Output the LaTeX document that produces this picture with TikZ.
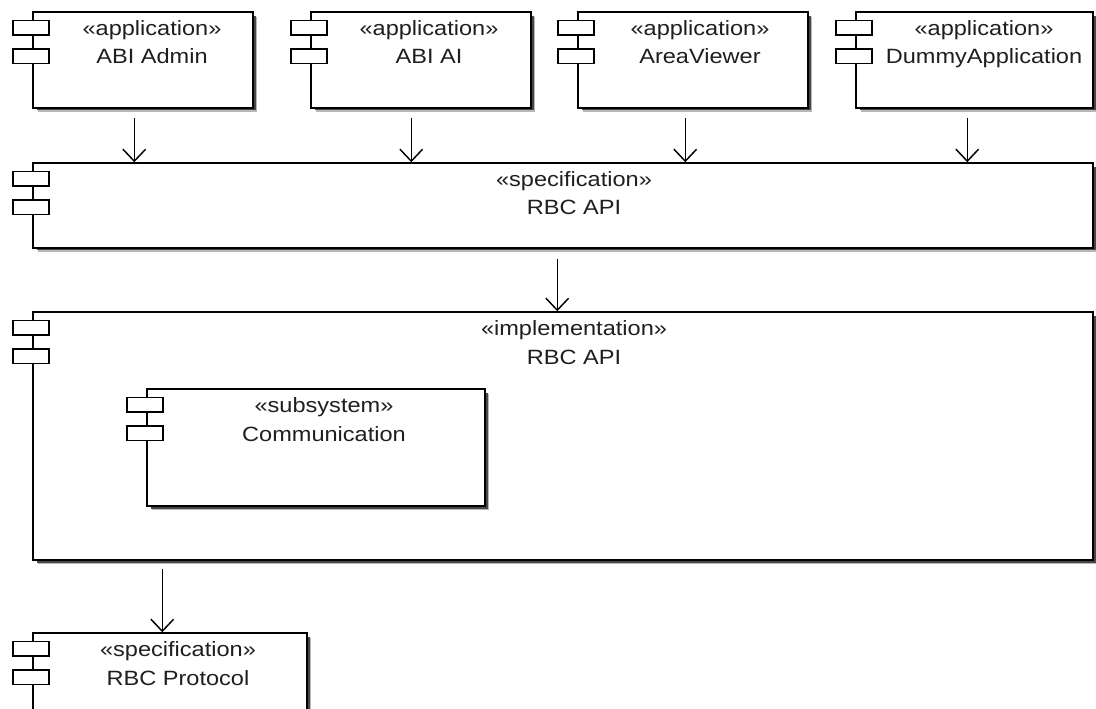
\documentclass[tikz,border=0pt]{standalone}
\usepackage{fontspec}
\newfontfamily\umlfont[FakeStretch=1.14]{Liberation Sans}
\usetikzlibrary{arrows.meta,fit,calc}

% \compbox{name}{x1}{y1}{x2}{y2}{stereotype}{title}{text centre x}
\newcommand\compbox[8]{%
  \fill[shadowdark] (#4, #3+4) rectangle (#4+2.5, #5+2.5);
  \fill[shadowdark] (#2+4, #5) rectangle (#4+2.5, #5+2.5);
  \fill[shadowlight] (#4+2.5, #3+5) rectangle (#4+4, #5+4);
  \fill[shadowlight] (#2+5, #5+2.5) rectangle (#4+4, #5+4);
  \node[compframe, fit={(#2,#3) (#4,#5)}] (#1) {};
  \draw[iconrect] (#2-20, #3+8.5) rectangle (#2+16, #3+23);
  \draw[iconrect] (#2-20, #3+37) rectangle (#2+16, #3+51.5);
  \node[umltext] (#1-st) at (#8, #3+23.5) {«#6»};
  \node[umltext] (#1-nm) at (#8, #3+52) {#7};
}

\tikzset{
  compframe/.style={draw=black, line width=1.1pt, fill=white, inner sep=0pt, rectangle},
  iconrect/.style={draw=black, line width=1.1pt, fill=white},
  shadowdark/.style={fill=black!72},
  shadowlight/.style={fill=black!28},
  umltext/.style={font=\umlfont\fontsize{15.5pt}{18pt}\selectfont, text=black!88, inner sep=0pt, anchor=base},
  dep/.style={line width=1.1pt, -{Straight Barb[length=9pt, width=17pt]}},
}

\begin{document}
\begin{tikzpicture}[x=0.75pt, y=-0.75pt]
\useasboundingbox (0,0) rectangle (1096,709);
\fill[white] (0,0) rectangle (1096,709);
\clip (0,0) rectangle (1096,709);

% applications
\compbox{admin}{33}{12}{253}{108}{application}{ABI Admin}{152}
\compbox{ai}{311}{12}{531}{108}{application}{ABI AI}{429}
\compbox{viewer}{578}{12}{808}{108}{application}{AreaViewer}{700}
\compbox{dummy}{856}{12}{1093}{108}{application}{DummyApplication}{984}

% API specification and implementation
\compbox{spec}{33}{163}{1093}{248}{specification}{RBC API}{574}
\compbox{impl}{33}{312}{1093}{560}{implementation}{RBC API}{574}
\compbox{comm}{147}{389}{485}{506}{subsystem}{Communication}{324}

% protocol
\compbox{proto}{33}{633}{307}{740}{specification}{RBC Protocol}{178}

% dependencies
\coordinate (d1) at ($(admin.south west)+(102,9)$);
\coordinate (d2) at ($(ai.south west)+(101,9)$);
\coordinate (d3) at ($(viewer.south west)+(108,9)$);
\coordinate (d4) at ($(dummy.south west)+(112,9)$);
\draw[dep] (d1) -- (d1 |- spec.north);
\draw[dep] (d2) -- (d2 |- spec.north);
\draw[dep] (d3) -- (d3 |- spec.north);
\draw[dep] (d4) -- (d4 |- spec.north);

\coordinate (d5) at ($(spec.south west)+(525,10)$);
\draw[dep] (d5) -- (d5 |- impl.north);

\coordinate (d6) at ($(impl.south west)+(130,8)$);
\draw[dep] (d6) -- (d6 |- proto.north);
\end{tikzpicture}
\end{document}
